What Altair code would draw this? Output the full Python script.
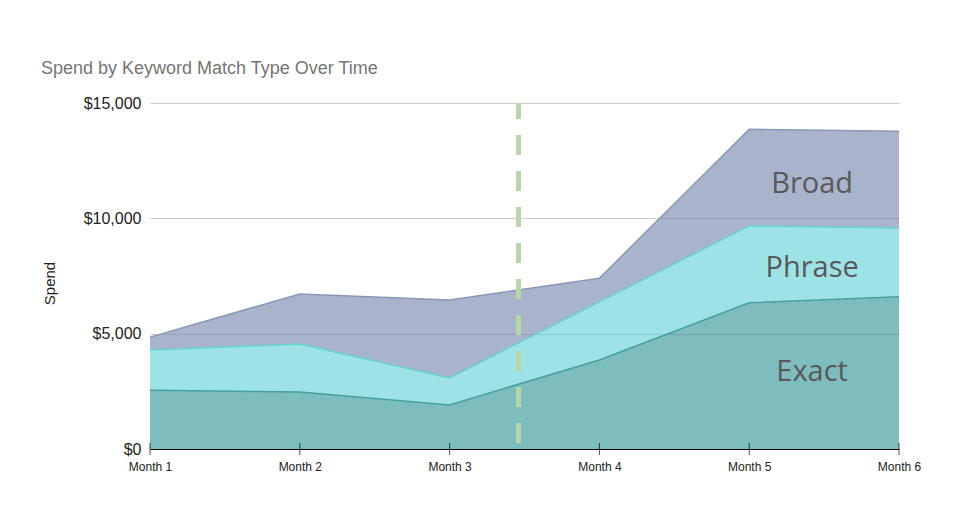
import altair as alt
import pandas as pd

months = [1, 2, 3, 4, 5, 6]
exact = [2550, 2470, 1910, 3860, 6340, 6600]
phrase = [1740, 2080, 1170, 2520, 3330, 2980]
broad = [560, 2170, 3380, 1020, 4190, 4200]
series = ["Exact", "Phrase", "Broad"]
fills = ["#269193", "#5ccfd4", "#7082aa"]
strokes = ["#46a09e", "#64d3d3", "#8a97b8"]

label_x = [5.42, 5.42, 5.42]
label_y = [3350, 7850, 11500]
marker_x = [3.46]

rows = []
for name, vals in zip(series, [exact, phrase, broad]):
    for m, v in zip(months, vals):
        rows.append({"month": m, "spend": v, "type": name, "rank": series.index(name)})
df = pd.DataFrame(rows)

labels_df = pd.DataFrame({"x": label_x, "y": label_y, "text": series})
marker_df = pd.DataFrame({"x": marker_x, "y": [15000], "y2": [0]})
ticks_df = pd.DataFrame({"month": months, "y": [0] * len(months)})

xscale = alt.Scale(domain=[1, 6], nice=False, zero=False)
yscale = alt.Scale(domain=[0, 15000], nice=False)

xaxis = alt.Axis(values=months, labelExpr="'Month ' + datum.value", title=None,
                 grid=False, ticks=False, domain=True, domainColor="#000000",
                 domainWidth=1, labelFontSize=12, labelColor="#222222",
                 labelFont="Liberation Sans", labelPadding=12,
                 labelAlign="center", labelFlush=False)
yaxis = alt.Axis(values=[0, 5000, 10000, 15000], format="$,.0f", title="Spend",
                 grid=True, gridColor="#cccccc", ticks=False, domain=False,
                 labelFontSize=16, labelColor="#222222", labelFont="Liberation Sans",
                 labelPadding=9, titleFont="Liberation Sans", titleFontSize=15,
                 titleFontWeight="normal", titleColor="#222222",
                 titleX=-101, titleY=180, titleAngle=-90, titleBaseline="middle")

area = alt.Chart(df).mark_area(opacity=0.6).encode(
    x=alt.X("month:Q", scale=xscale, axis=xaxis),
    y=alt.Y("spend:Q", stack="zero", scale=yscale, axis=yaxis),
    color=alt.Color("type:N", scale=alt.Scale(domain=series, range=fills), legend=None),
    order=alt.Order("rank:Q"),
)

lines = alt.Chart(df).mark_line(strokeWidth=1.5).encode(
    x=alt.X("month:Q", scale=xscale),
    y=alt.Y("spend:Q", stack="zero", scale=yscale),
    color=alt.Color("type:N", scale=alt.Scale(domain=series, range=strokes), legend=None),
    order=alt.Order("rank:Q"),
    detail="type:N",
)

marker = alt.Chart(marker_df).mark_rule(color="#b7d7a8", strokeWidth=5,
                                        strokeDash=[20, 16],
                                        strokeDashOffset=4).encode(
    x=alt.X("x:Q", scale=xscale),
    y=alt.Y("y:Q", scale=yscale),
    y2="y2:Q",
)

ticks = alt.Chart(ticks_df).mark_tick(orient="vertical", size=12, thickness=1,
                                      color="#000000").encode(
    x=alt.X("month:Q", scale=xscale),
    y=alt.Y("y:Q", scale=yscale),
)

text = alt.Chart(labels_df).mark_text(font="Open Sans", fontSize=29,
                                      color="#595959", align="center",
                                      baseline="middle").encode(
    x=alt.X("x:Q", scale=xscale),
    y=alt.Y("y:Q", scale=yscale),
    text="text:N",
)

chart = alt.layer(area, lines, marker, ticks, text).resolve_scale(
    color="independent"
).properties(
    width=749, height=346,
    autosize="none",
    padding={"left": 142, "top": 95, "right": 59, "bottom": 60},
    title=alt.TitleParams("Spend by Keyword Match Type Over Time", anchor="start",
                          frame="group", dx=-109, offset=17, font="Liberation Sans",
                          fontSize=18, fontWeight="normal", color="#757575"),
).configure_view(stroke=None)

chart.save("out.html", embed_options={"renderer": "svg", "actions": False})
